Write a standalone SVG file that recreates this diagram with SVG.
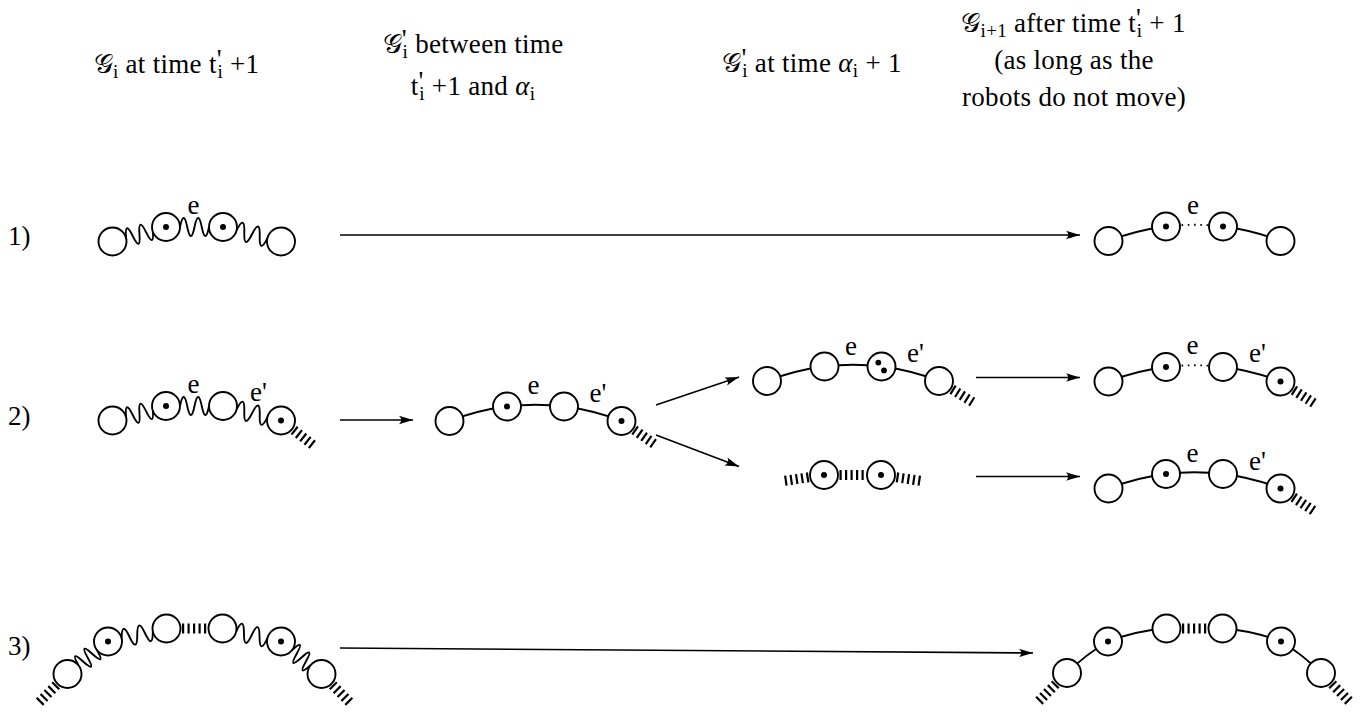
<svg xmlns="http://www.w3.org/2000/svg" width="1364" height="713" viewBox="0 0 1364 713">
<style>
text{font-family:"Liberation Serif","DejaVu Serif",serif;font-size:27px;fill:#000}
.h{letter-spacing:0.3px}
.sb{font-size:19px}
.n{fill:#fff;stroke:#000;stroke-width:1.9}
.d{fill:#000}
.arc{fill:none;stroke:#000;stroke-width:1.9}
.wv{fill:none;stroke:#000;stroke-width:1.9;stroke-linejoin:round}
.dt{fill:none;stroke:#000;stroke-width:1.9;stroke-dasharray:1.6 4.65;stroke-dashoffset:-3.1}
.ht{fill:none;stroke:#000;stroke-width:10;stroke-dasharray:2.2 3.3}
.ar{fill:none;stroke:#000;stroke-width:1.6;marker-end:url(#ah)}
</style>
<defs>
<marker id="ah" viewBox="0 0 16 12" markerWidth="16" markerHeight="12" refX="14" refY="6" orient="auto" markerUnits="userSpaceOnUse"><path d="M14,6 L0,1.8 Q4.5,6 0,10.2 Z" fill="#000"/></marker>
</defs>
<rect width="1364" height="713" fill="#fff"/>
<g id="headers">
<text class="h" x="176.5" y="73" text-anchor="middle">𝒢<tspan class="sb" dy="5">i</tspan><tspan dy="-5"> at time t</tspan><tspan dy="-5">'</tspan><tspan class="sb" dx="-4.5" dy="10">i</tspan><tspan dy="-5"> +1</tspan></text>
<text class="h" x="473" y="53" text-anchor="middle">𝒢<tspan dy="-5">'</tspan><tspan class="sb" dx="-4.5" dy="10">i</tspan><tspan dy="-5"> between time</tspan></text>
<text class="h" x="473" y="95" text-anchor="middle">t<tspan dy="-5">'</tspan><tspan class="sb" dx="-4.5" dy="10">i</tspan><tspan dy="-5"> +1 and </tspan><tspan font-style="italic">α</tspan><tspan class="sb" dy="5">i</tspan></text>
<text class="h" x="812" y="72" text-anchor="middle">𝒢<tspan dy="-5">'</tspan><tspan class="sb" dx="-4.5" dy="10">i</tspan><tspan dy="-5"> at time </tspan><tspan font-style="italic">α</tspan><tspan class="sb" dy="5">i</tspan><tspan dy="-5"> + 1</tspan></text>
<text class="h" x="1073.5" y="32" text-anchor="middle">𝒢<tspan class="sb" dy="5">i+1</tspan><tspan dy="-5"> after time t</tspan><tspan dy="-5">'</tspan><tspan class="sb" dx="-4.5" dy="10">i</tspan><tspan dy="-5"> + 1</tspan></text>
<text class="h" x="1074" y="69" text-anchor="middle">(as long as the</text>
<text class="h" x="1074" y="106" text-anchor="middle">robots do not move)</text>
</g>
<g id="row-labels">
<text x="8" y="245">1)</text>
<text x="8" y="425">2)</text>
<text x="8" y="655">3)</text>
</g>
<g id="connectors">
<line class="ar" x1="340" y1="235" x2="1080" y2="235"/>
<line class="ar" x1="340" y1="420" x2="413" y2="420"/>
<line class="ar" x1="656" y1="405" x2="739" y2="377"/>
<line class="ar" x1="656" y1="435" x2="739" y2="466.5"/>
<line class="ar" x1="976" y1="377.5" x2="1080" y2="377.5"/>
<line class="ar" x1="976" y1="476.5" x2="1080" y2="476.5"/>
<line class="ar" x1="340" y1="648" x2="1033" y2="653"/>
<path class="wv" transform="translate(112.5,241.5) rotate(-15.16)" d="M14,0 q3.48,-18 6.96,0 t6.96,0 t6.96,0 t6.96,0"/>
<path class="wv" transform="translate(166,227)" d="M14,0 q3.63,-18 7.25,0 t7.25,0 t7.25,0 t7.25,0"/>
<path class="wv" transform="translate(223,227) rotate(14.04)" d="M14,0 q3.97,-18 7.95,0 t7.95,0 t7.95,0 t7.95,0"/>
<path class="wv" transform="translate(112.5,420.5) rotate(-15.16)" d="M14,0 q3.48,-18 6.96,0 t6.96,0 t6.96,0 t6.96,0"/>
<path class="wv" transform="translate(166,406)" d="M14,0 q3.63,-18 7.25,0 t7.25,0 t7.25,0 t7.25,0"/>
<path class="wv" transform="translate(223,406) rotate(14.04)" d="M14,0 q3.97,-18 7.95,0 t7.95,0 t7.95,0 t7.95,0"/>
<line class="ht" x1="293.7" y1="430" x2="313" y2="445.1"/>
<path class="arc" d="M1108.5,241 A236,236 0 0 1 1166,226.5"/>
<path class="dt" d="M1166,226.5 A236,236 0 0 1 1223,226.5"/>
<path class="arc" d="M1223,226.5 A236,236 0 0 1 1280.5,241"/>
<path class="arc" d="M449.5,421 A236,236 0 0 1 507,406.5 A236,236 0 0 1 564,406.5 A236,236 0 0 1 621.5,421"/>
<line class="ht" x1="634.2" y1="429.9" x2="654.3" y2="444"/>
<path class="arc" d="M767,381 A236,236 0 0 1 824.5,366.5 A236,236 0 0 1 881.5,366.5 A236,236 0 0 1 939,381"/>
<line class="ht" x1="952.1" y1="389.3" x2="972.9" y2="402.2"/>
<line class="ht" x1="808.7" y1="477.3" x2="783.4" y2="481"/>
<line class="ht" x1="839.5" y1="475" x2="865.5" y2="475"/>
<line class="ht" x1="896.4" y1="477.3" x2="921.6" y2="481"/>
<path class="arc" d="M1108.5,381.5 A236,236 0 0 1 1166,367"/>
<path class="dt" d="M1166,367 A236,236 0 0 1 1223,367"/>
<path class="arc" d="M1223,367 A236,236 0 0 1 1280.5,381.5"/>
<line class="ht" x1="1293.5" y1="390" x2="1314.1" y2="403.3"/>
<path class="arc" d="M1108.5,488.5 A236,236 0 0 1 1166,474 A236,236 0 0 1 1223,474 A236,236 0 0 1 1280.5,488.5"/>
<line class="ht" x1="1293.3" y1="497.2" x2="1313.7" y2="510.9"/>
<path class="wv" transform="translate(67.5,674) rotate(-38.75)" d="M14,0 q2.99,-18 5.98,0 t5.98,0 t5.98,0 t5.98,0"/>
<path class="wv" transform="translate(108,641.5) rotate(-12.53)" d="M14,0 q3.99,-18 7.98,0 t7.98,0 t7.98,0 t7.98,0"/>
<path class="wv" transform="translate(222.5,628.5) rotate(12.53)" d="M14,0 q3.99,-18 7.98,0 t7.98,0 t7.98,0 t7.98,0"/>
<path class="wv" transform="translate(281,641.5) rotate(38.75)" d="M14,0 q2.99,-18 5.98,0 t5.98,0 t5.98,0 t5.98,0"/>
<line class="ht" x1="182" y1="628.5" x2="207" y2="628.5"/>
<line class="ht" x1="56.5" y1="685" x2="39.2" y2="702.3"/>
<line class="ht" x1="332.5" y1="685" x2="349.8" y2="702.3"/>
<path class="arc" d="M1067,673 A200,200 0 0 1 1108,641.5 A200,200 0 0 1 1166.5,628.5"/>
<path class="arc" d="M1222.5,628.5 A200,200 0 0 1 1281,641.5 A200,200 0 0 1 1321,673"/>
<line class="ht" x1="1182" y1="628.5" x2="1207" y2="628.5"/>
<line class="ht" x1="1056" y1="684" x2="1038.7" y2="701.3"/>
<line class="ht" x1="1332" y1="684" x2="1349.3" y2="701.3"/>
</g>
<g id="edge-labels">
<text x="193.5" y="214" text-anchor="middle">e</text>
<text x="193.5" y="393" text-anchor="middle">e</text>
<text x="258.5" y="401" text-anchor="middle">e'</text>
<text x="533.5" y="394" text-anchor="middle">e</text>
<text x="598" y="402" text-anchor="middle">e'</text>
<text x="851" y="355" text-anchor="middle">e</text>
<text x="915.5" y="362" text-anchor="middle">e'</text>
<text x="1193" y="214" text-anchor="middle">e</text>
<text x="1192.5" y="354" text-anchor="middle">e</text>
<text x="1257.5" y="362" text-anchor="middle">e'</text>
<text x="1192.5" y="462" text-anchor="middle">e</text>
<text x="1257.5" y="470" text-anchor="middle">e'</text>
</g>
<g id="nodes">
<g id="n1L1"><circle class="n" cx="112.5" cy="241.5" r="14"/></g>
<g id="n1L2"><circle class="n" cx="166" cy="227" r="14"/><circle class="d" cx="166" cy="227" r="3"/></g>
<g id="n1L3"><circle class="n" cx="223" cy="227" r="14"/><circle class="d" cx="223" cy="227" r="3"/></g>
<g id="n1L4"><circle class="n" cx="281" cy="241.5" r="14"/></g>
<g id="n1R1"><circle class="n" cx="1108.5" cy="241" r="14"/></g>
<g id="n1R2"><circle class="n" cx="1166" cy="226.5" r="14"/><circle class="d" cx="1166" cy="226.5" r="3"/></g>
<g id="n1R3"><circle class="n" cx="1223" cy="226.5" r="14"/><circle class="d" cx="1223" cy="226.5" r="3"/></g>
<g id="n1R4"><circle class="n" cx="1280.5" cy="241" r="14"/></g>
<g id="n2L1"><circle class="n" cx="112.5" cy="420.5" r="14"/></g>
<g id="n2L2"><circle class="n" cx="166" cy="406" r="14"/><circle class="d" cx="166" cy="406" r="3"/></g>
<g id="n2L3"><circle class="n" cx="223" cy="406" r="14"/></g>
<g id="n2L4"><circle class="n" cx="281" cy="420.5" r="14"/><circle class="d" cx="281" cy="420.5" r="3"/></g>
<g id="n2M1"><circle class="n" cx="449.5" cy="421" r="14"/></g>
<g id="n2M2"><circle class="n" cx="507" cy="406.5" r="14"/><circle class="d" cx="507" cy="406.5" r="3"/></g>
<g id="n2M3"><circle class="n" cx="564" cy="406.5" r="14"/></g>
<g id="n2M4"><circle class="n" cx="621.5" cy="421" r="14"/><circle class="d" cx="621.5" cy="421" r="3"/></g>
<g id="n2U1"><circle class="n" cx="767" cy="381" r="14"/></g>
<g id="n2U2"><circle class="n" cx="824.5" cy="366.5" r="14"/></g>
<g id="n2U3"><circle class="n" cx="881.5" cy="366.5" r="14"/><circle class="d" cx="878.3" cy="362.6" r="2.9"/><circle class="d" cx="884" cy="370.4" r="2.9"/></g>
<g id="n2U4"><circle class="n" cx="939" cy="381" r="14"/></g>
<g id="n2D1"><circle class="n" cx="824" cy="475" r="14"/><circle class="d" cx="824" cy="475" r="3"/></g>
<g id="n2D2"><circle class="n" cx="881" cy="475" r="14"/><circle class="d" cx="881" cy="475" r="3"/></g>
<g id="n2RU1"><circle class="n" cx="1108.5" cy="381.5" r="14"/></g>
<g id="n2RU2"><circle class="n" cx="1166" cy="367" r="14"/><circle class="d" cx="1166" cy="367" r="3"/></g>
<g id="n2RU3"><circle class="n" cx="1223" cy="367" r="14"/></g>
<g id="n2RU4"><circle class="n" cx="1280.5" cy="381.5" r="14"/><circle class="d" cx="1280.5" cy="381.5" r="3"/></g>
<g id="n2RD1"><circle class="n" cx="1108.5" cy="488.5" r="14"/></g>
<g id="n2RD2"><circle class="n" cx="1166" cy="474" r="14"/><circle class="d" cx="1166" cy="474" r="3"/></g>
<g id="n2RD3"><circle class="n" cx="1223" cy="474" r="14"/></g>
<g id="n2RD4"><circle class="n" cx="1280.5" cy="488.5" r="14"/><circle class="d" cx="1280.5" cy="488.5" r="3"/></g>
<g id="n3L1"><circle class="n" cx="67.5" cy="674" r="14"/></g>
<g id="n3L2"><circle class="n" cx="108" cy="641.5" r="14"/><circle class="d" cx="108" cy="641.5" r="3"/></g>
<g id="n3L3"><circle class="n" cx="166.5" cy="628.5" r="14"/></g>
<g id="n3L4"><circle class="n" cx="222.5" cy="628.5" r="14"/></g>
<g id="n3L5"><circle class="n" cx="281" cy="641.5" r="14"/><circle class="d" cx="281" cy="641.5" r="3"/></g>
<g id="n3L6"><circle class="n" cx="321.5" cy="674" r="14"/></g>
<g id="n3R1"><circle class="n" cx="1067" cy="673" r="14"/></g>
<g id="n3R2"><circle class="n" cx="1108" cy="641.5" r="14"/><circle class="d" cx="1108" cy="641.5" r="3"/></g>
<g id="n3R3"><circle class="n" cx="1166.5" cy="628.5" r="14"/></g>
<g id="n3R4"><circle class="n" cx="1222.5" cy="628.5" r="14"/></g>
<g id="n3R5"><circle class="n" cx="1281" cy="641.5" r="14"/><circle class="d" cx="1281" cy="641.5" r="3"/></g>
<g id="n3R6"><circle class="n" cx="1321" cy="673" r="14"/></g>
</g>
</svg>
